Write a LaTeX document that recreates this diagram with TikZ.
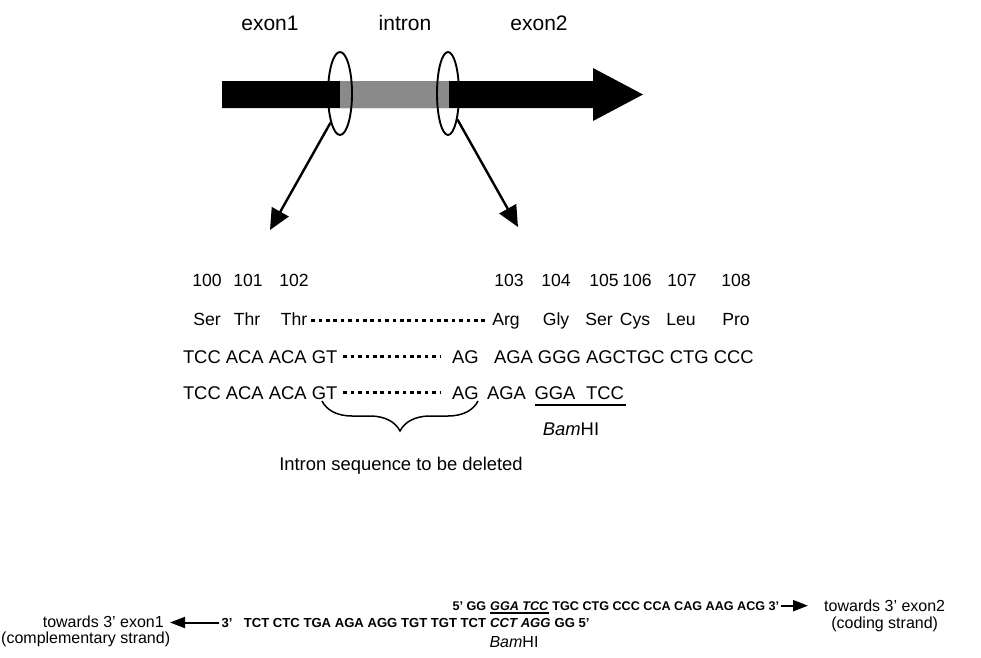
\documentclass[tikz,border=0pt]{standalone}
\usepackage{fontspec}
\setmainfont{Liberation Sans}
\usetikzlibrary{arrows.meta,shapes.geometric,decorations.pathreplacing}
\definecolor{introngray}{RGB}{138,138,138}
\begin{document}
\begin{tikzpicture}[x=1pt,y=-1pt,
  txt/.style={font=\fontsize{18.4}{22}\selectfont, inner sep=0pt, outer sep=0pt},
  numtxt/.style={font=\fontsize{17.6}{21}\selectfont, inner sep=0pt, outer sep=0pt},
  toptxt/.style={font=\fontsize{21}{25}\selectfont, inner sep=0pt},
  sequp/.style={font=\fontsize{12.6}{15}\selectfont\bfseries, inner sep=0pt},
  seqlo/.style={font=\fontsize{13.1}{15}\selectfont\bfseries, inner sep=0pt},
  side/.style={font=\fontsize{16}{19}\selectfont, inner sep=0pt},
  dotrow/.style={line width=3pt, dash pattern=on 3.6pt off 3.8pt},
  ring/.style={draw, ellipse, line width=1.9pt, inner sep=0pt, minimum width=24pt, minimum height=83pt},
  bigarrow/.style={line width=2.4pt, -{Triangle[length=21pt,width=19pt]}},
  smallarrow/.style={line width=2pt, -{Triangle[length=15pt,width=11pt]}},
  uline/.style={line width=1.8pt}]
\useasboundingbox (0,0) rectangle (981,657);

% top labels
\node[toptxt, anchor=base] (lex1) at (270,30) {exon1};
\node[toptxt, anchor=base] (lint) at (405,30) {intron};
\node[toptxt, anchor=base] (lex2) at (539,30) {exon2};

% gene arrow
\fill (222,81) -- (593,81) -- (593,68) -- (643,94.5) -- (593,121) -- (593,108) -- (222,108) -- cycle;
\fill[introngray] (340,81) rectangle (449,108);

% splice-site rings and arrows
\node[ring] (e1) at (340,93.5) {};
\node[ring, minimum width=22pt] (e2) at (448,93.5) {};
\coordinate (t1) at (270,230);
\coordinate (t2) at (518,227);
\draw[bigarrow] (e1.252) -- (t1);
\draw[bigarrow] (e2.290) -- (t2);

% residue numbers
\foreach \n/\x in {100/207,101/248,102/294,103/509,104/556,105/604,106/637,107/682,108/736}
  \node[numtxt, anchor=base] (n\n) at (\x,286) {\n};

% amino acids
\foreach \i/\t/\x in {1/Ser/207,2/Thr/247,3/Thr/294,4/Arg/506,5/Gly/556,6/Ser/599,7/Cys/635,8/Leu/681,9/Pro/736}
  \node[numtxt, anchor=base] (aa\i) at (\x,325) {\t};
\draw[dotrow] ([xshift=4pt,yshift=5pt]aa3.base east) -- ([xshift=-4pt,yshift=5pt]aa4.base west);

% DNA row 1
\node[txt, anchor=base west] (r1a) at (183,363) {TCC ACA ACA GT};
\node[txt, anchor=base west] (r1b) at (452,363) {AG};
\node[txt, anchor=base west] (r1c) at (494,363) {AGA GGG AGCTGC CTG CCC};
\draw[dotrow] ([xshift=6pt,yshift=6.5pt]r1a.base east) -- ([xshift=-12pt,yshift=6.5pt]r1b.base west);

% DNA row 2
\node[txt, anchor=base west] (r2a) at (183,399) {TCC ACA ACA GT};
\node[txt, anchor=base west] (r2b) at (452,399) {AG};
\node[txt, anchor=base west] (r2c) at (487,399) {AGA};
\node[txt, anchor=base] (r2d) at (555,399) {GGA};
\node[txt, anchor=base] (r2e) at (605,399) {TCC};
\draw[dotrow] ([xshift=6pt,yshift=6.5pt]r2a.base east) -- ([xshift=-12pt,yshift=6.5pt]r2b.base west);
\draw[uline] ([yshift=-6pt]r2d.base west) -- ([yshift=-6pt,xshift=2pt]r2e.base east);
\node[txt, anchor=base] (bam1) at (571,435) {\textit{Bam}HI};

% brace
\coordinate (bl) at (322,401);
\coordinate (br) at (478,401);
\draw[line width=1.5pt, decorate, decoration={brace, amplitude=30pt, mirror}] (bl) -- (br);
\node[txt, anchor=base] (del) at (401,470) {Intron sequence to be deleted};

% primer strands
\node[sequp, anchor=base west] (u2) at (490,610) {\textit{GGA TCC}};
\node[sequp, anchor=base east] (u1) at ([xshift=-3.6pt]u2.base west) {5’ GG};
\node[sequp, anchor=base west] (u3) at ([xshift=3.6pt]u2.base east) {TGC CTG CCC CCA CAG AAG ACG 3’};
\draw[uline] ([yshift=-2.8pt]u2.base west) -- ([yshift=-2.8pt]u2.base east);

\node[seqlo, anchor=base west] (l2) at (490,627) {\textit{CCT AGG}};
\node[seqlo, anchor=base west] (l3) at ([xshift=3.6pt]l2.base east) {GG 5’};
\node[seqlo, anchor=base east] (l1) at ([xshift=-3.6pt]l2.base west) {TCT CTC TGA AGA AGG TGT TGT TCT};
\node[seqlo, anchor=base east] (l0) at ([xshift=-11pt]l1.base west) {3’};
\node[side, anchor=base] (bam2) at (514,647) {\textit{Bam}HI};

\coordinate (la) at (170,622);
\draw[smallarrow] ([xshift=-2pt]l0.west) -- (l0.west -| la);
\coordinate (ra) at (808,605);
\draw[smallarrow] ([xshift=2pt]u3.east) -- (u3.east -| ra);

\node[side, anchor=base west] (tw2) at (824,611) {towards 3’ exon2};
\node[side, anchor=base] (cs) at ([yshift=-17pt]tw2.base) {(coding strand)};
\node[side, anchor=base east] (tw1) at (164,627) {towards 3’ exon1};
\node[side, anchor=base west] (cms) at (1,643) {(complementary strand)};
\end{tikzpicture}
\end{document}
